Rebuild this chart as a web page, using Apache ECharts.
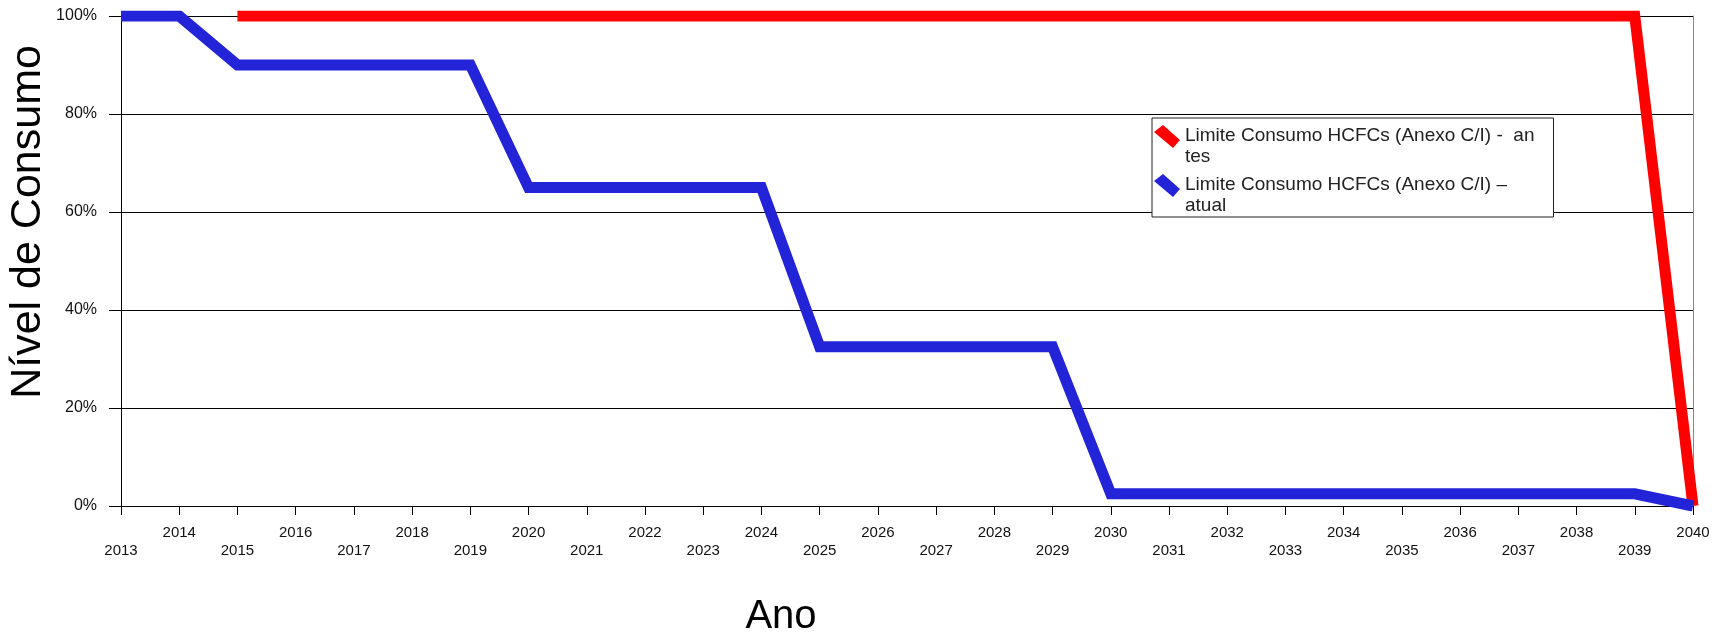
<!DOCTYPE html>
<html><head><meta charset="utf-8">
<script src="https://cdn.jsdelivr.net/npm/echarts@6/dist/echarts.min.js"></script>
<style>html,body{margin:0;padding:0;background:#fff}#c{width:1717px;height:636px}</style>
</head><body><div id="c"></div>
<script>
const years = ['2013','2014','2015','2016','2017','2018','2019','2020','2021','2022','2023','2024','2025','2026','2027','2028','2029','2030','2031','2032','2033','2034','2035','2036','2037','2038','2039','2040'];
const antes = [null,null,100,100,100,100,100,100,100,100,100,100,100,100,100,100,100,100,100,100,100,100,100,100,100,100,100,0];
const atual = [100,100,90,90,90,90,90,65,65,65,65,65,32.5,32.5,32.5,32.5,32.5,2.5,2.5,2.5,2.5,2.5,2.5,2.5,2.5,2.5,2.5,0];
const yTicks = [0,20,40,60,80,100];
const nameAntes = 'Limite Consumo HCFCs (Anexo C/I) - antes';
const nameAtual = 'Limite Consumo HCFCs (Anexo C/I) – atual';
const legendText = {};
legendText[nameAntes] = 'Limite Consumo HCFCs (Anexo C/I) -  an\ntes';
legendText[nameAtual] = 'Limite Consumo HCFCs (Anexo C/I) –\natual';

const FONT = 'Liberation Sans, Arial, sans-serif';
const chart = echarts.init(document.getElementById('c'), null, {renderer:'canvas'});
const iconPath = 'path://M0,7 L9,0 L26,15 L19,23 Z M0,42 L0.01,42 Z';
chart.setOption({
  animation: false,
  textStyle: {fontFamily: FONT},
  grid: {left: 121, right: 24, top: 16, bottom: 130, containLabel: false},
  legend: {
    left: 1152, top: 118, orient: 'vertical',
    padding: [7, 19, 1, 2], itemGap: 7,
    itemWidth: 26, itemHeight: 42,
    borderColor: '#222', borderWidth: 1, backgroundColor: '#fff',
    textStyle: {fontSize: 19, color: '#222', lineHeight: 21, fontFamily: FONT},
    formatter: n => legendText[n],
    data: [
      {name: nameAntes, icon: iconPath, itemStyle: {color: '#ff0000'}},
      {name: nameAtual, icon: iconPath, itemStyle: {color: '#2323d8'}}
    ]
  },
  xAxis: {
    type: 'category', data: years, boundaryGap: false,
    axisLine: {lineStyle: {color: '#000', width: 1}},
    axisTick: {show: true, interval: 0, length: 9, lineStyle: {color: '#000'}},
    axisLabel: {
      interval: 0, margin: 18, fontSize: 15, color: '#111', lineHeight: 18, fontFamily: FONT,
      formatter: (v, i) => (i % 2 === 0 ? '\n' + v : v)
    },
    splitLine: {show: false}
  },
  yAxis: [{
    type: 'value', min: 0, max: 100, interval: 20,
    axisLine: {show: true, lineStyle: {color: '#000', width: 1}},
    axisTick: {show: true, length: 12, lineStyle: {color: '#000'}},
    axisLabel: {margin: 24, fontSize: 16, color: '#111', fontFamily: FONT,
      formatter: v => yTicks.includes(v) ? v + '%' : ''},
    splitLine: {show: true, lineStyle: {color: '#000', width: 1}}
  }, {
    type: 'value', min: 0, max: 100, interval: 20, position: 'right',
    axisLine: {show: true, lineStyle: {color: '#888', width: 1}},
    axisTick: {show: false}, axisLabel: {show: false}, splitLine: {show: false}
  }],
  series: [
    {name: nameAntes, type: 'line', data: antes, showSymbol: false, symbol: 'none',
     lineStyle: {color: '#ff0000', width: 11, join: 'miter'}, itemStyle: {color: '#ff0000'}, z: 3},
    {name: nameAtual, type: 'line', data: atual, showSymbol: false, symbol: 'none',
     lineStyle: {color: '#2323d8', width: 11, join: 'miter'}, itemStyle: {color: '#2323d8'}, z: 4}
  ],
  graphic: [
    {type: 'text', x: 28, y: 222, rotation: Math.PI / 2,
     style: {text: 'Nível de Consumo', fontSize: 43, fill: '#000', fontFamily: FONT, align: 'center', verticalAlign: 'middle'}},
    {type: 'text', x: 781, y: 617,
     style: {text: 'Ano', fontSize: 40, fill: '#000', fontFamily: FONT, align: 'center', verticalAlign: 'middle'}}
  ]
});
</script></body></html>
